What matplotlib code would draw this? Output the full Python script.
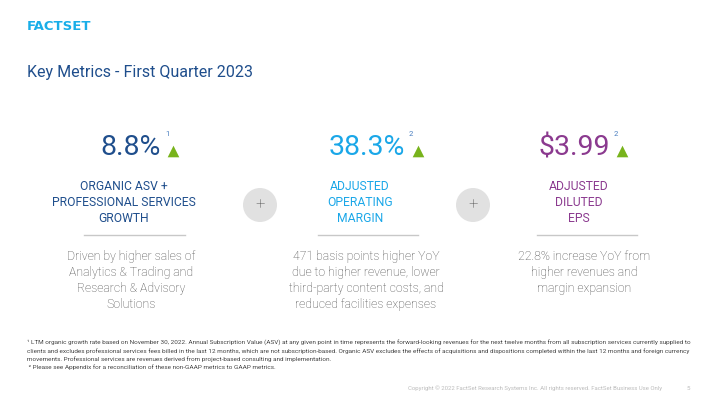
import matplotlib
matplotlib.use("Agg")
import matplotlib.pyplot as plt
from matplotlib.patches import Circle

plt.rcParams['font.family'] = ['Roboto', 'DejaVu Sans']

# ---- data ----
metric_values = ["8.8%", "38.3%", "$3.99"]
metric_notes = ["1", "2", "2"]
metric_labels = ["ORGANIC ASV +\nPROFESSIONAL SERVICES\nGROWTH",
                 "ADJUSTED\nOPERATING\nMARGIN",
                 "ADJUSTED\nDILUTED\nEPS"]
metric_descriptions = ["Driven by higher sales of\nAnalytics & Trading and\nResearch & Advisory\nSolutions",
                       "471 basis points higher YoY\ndue to higher revenue, lower\nthird-party content costs, and\nreduced facilities expenses",
                       "22.8% increase YoY from\nhigher revenues and\nmargin expansion"]
title = "Key Metrics - First Quarter 2023"
footnote = ("\u00b9 LTM organic growth rate based on November 30, 2022. Annual Subscription Value (ASV) at any given point in time represents the forward-looking revenues for the next twelve months from all subscription services currently supplied to\n"
            "clients and excludes professional services fees billed in the last 12 months, which are not subscription-based. Organic ASV excludes the effects of acquisitions and dispositions completed within the last 12 months and foreign currency\n"
            "movements. Professional services are revenues derived from project-based consulting and implementation.\n"
            " \u00b2 Please see Appendix for a reconciliation of these non-GAAP metrics to GAAP metrics.")
copyright_text = "Copyright \u00a9 2022 FactSet Research Systems Inc. All rights reserved. FactSet Business Use Only"
page_no = "5"

# ---- layout / style ----
colors = ["#1f4e8c", "#1aa7e8", "#8b3a8f"]
label_centers = [124, 360, 579]
desc_centers = [131, 366, 584]
value_right = [161, 405, 610]
tri_x = [173, 418, 622]
line_spans = [(84, 185), (318, 418), (537, 637)]
plus_x = [260, 473]

fig = plt.figure(figsize=(7.2, 4.05), dpi=100)
ax = fig.add_axes([0, 0, 1, 1])
ax.set_xlim(0, 720)
ax.set_ylim(405, 0)
ax.axis('off')

ax.text(27, 27, "FACTSET", color="#19aee8", fontsize=9.5, fontweight='bold',
        ha='left', va='center', fontfamily=['DejaVu Sans'])
ax.text(27, 73, title, color="#1f4e8c", fontsize=11.5, ha='left', va='center')

for i in range(3):
    c = colors[i]
    ax.text(value_right[i], 155, metric_values[i], color=c, fontsize=20.5,
            ha='right', va='baseline')
    ax.text(value_right[i] + 4, 134, metric_notes[i], color="#4a7fc0", fontsize=5.5,
            ha='left', va='center')
    ax.scatter([tri_x[i]], [151], marker='^', s=70, color="#78b31c", zorder=3,
               linewidths=0)
    ax.text(label_centers[i], 202, metric_labels[i], color=c, fontsize=8.7,
            ha='center', va='center', linespacing=1.3)
    ax.plot(line_spans[i], [235, 235], color="#c8c8c8", lw=1)
    ax.text(desc_centers[i], 250, metric_descriptions[i], color="#4a4a4a", fontsize=8.8,
            fontweight='light', ha='center', va='top', linespacing=1.3)

for px in plus_x:
    ax.add_patch(Circle((px, 205), 17, facecolor="#e1e1e1", edgecolor='none'))
    ax.text(px, 205, "+", color="#444444", fontsize=12, ha='center', va='center',
            fontweight='light')

ax.text(27, 340, footnote, color="#444444", fontsize=4.6, ha='left', va='top',
        linespacing=1.45)
ax.text(662, 388, copyright_text, color="#bcbcbc", fontsize=4.3, ha='right', va='center')
ax.text(688, 388, page_no, color="#bcbcbc", fontsize=4.5, ha='center', va='center')

fig.savefig("out.png", dpi=100, facecolor='white')
